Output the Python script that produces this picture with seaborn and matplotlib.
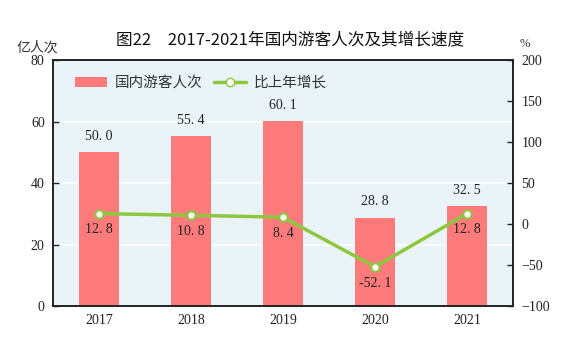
import matplotlib
matplotlib.use("Agg")
import matplotlib.pyplot as plt
import seaborn as sns
import pandas as pd
from matplotlib.lines import Line2D
from matplotlib.patches import Patch

years = ["2017", "2018", "2019", "2020", "2021"]
visitors = [50.0, 55.4, 60.1, 28.8, 32.5]
growth = [12.8, 10.8, 8.4, -52.1, 12.8]
visitor_labels = ["50. 0", "55. 4", "60. 1", "28. 8", "32. 5"]
growth_labels = ["12. 8", "10. 8", "8. 4", "-52. 1", "12. 8"]

sns.set_style("white")
plt.rcParams['font.family'] = ['Noto Sans CJK SC', 'DejaVu Sans']
serif = ['Liberation Serif', 'DejaVu Serif']

df = pd.DataFrame({"year": years, "visitors": visitors, "growth": growth})

fig = plt.figure(figsize=(5.8, 3.42), dpi=100)
ax = fig.add_axes([0.0914, 0.105, 0.793, 0.719])
ax.set_facecolor("#EAF4F8")

bar_color = "#FF7B7B"
line_color = "#8DC63F"

sns.barplot(data=df, x="year", y="visitors", color=bar_color, width=0.435,
            saturation=1, ax=ax, zorder=2, linewidth=0, edgecolor="none")
ax.set_xlim(-0.5, 4.5)
ax.set_ylim(0, 80)
ax.set_yticks([0, 20, 40, 60, 80])
ax.yaxis.grid(True, color="white", linewidth=1.2, zorder=1)
ax.set_axisbelow(True)
ax.set_xlabel("")
ax.set_ylabel("")
ax.tick_params(axis="y", direction="in", length=4, width=1, colors="#222222",
               labelsize=10, pad=6)
ax.tick_params(axis="x", length=0, labelsize=10, colors="#222222", pad=6)
for lab in ax.get_xticklabels() + ax.get_yticklabels():
    lab.set_fontfamily(serif)
for s in ax.spines.values():
    s.set_color("#222222")
    s.set_linewidth(1.2)

for i, (v, t) in enumerate(zip(visitors, visitor_labels)):
    ax.text(i, v + 3, t, ha="center", va="bottom", fontsize=10,
            family=serif, color="#222222", zorder=5)

ax2 = ax.twinx()
ax2.set_ylim(-100, 200)
ax2.set_yticks([-100, -50, 0, 50, 100, 150, 200])
ax2.set_yticklabels(["\u2212100", "\u221250", "0", "50", "100", "150", "200"])
sns.lineplot(x=list(range(len(years))), y=growth, ax=ax2, color=line_color,
             linewidth=2.5, marker="o", markersize=6, markerfacecolor="white",
             markeredgecolor=line_color, markeredgewidth=1.5, zorder=4)
ax2.tick_params(axis="y", direction="in", length=4, width=1, colors="#222222",
                labelsize=10, pad=6)
for lab in ax2.get_yticklabels():
    lab.set_fontfamily(serif)
for s in ax2.spines.values():
    s.set_color("#222222")
    s.set_linewidth(1.2)
ax2.set_xlim(-0.5, 4.5)

for i, (g, t) in enumerate(zip(growth, growth_labels)):
    ax2.text(i, g - 12, t, ha="center", va="top", fontsize=10,
             family=serif, color="#222222", zorder=5)

handles = [Patch(facecolor=bar_color, edgecolor="none", label="国内游客人次"),
           Line2D([0], [0], color=line_color, linewidth=2.5, marker="o",
                  markersize=6, markerfacecolor="white",
                  markeredgecolor=line_color, label="比上年增长")]
leg = ax.legend(handles=handles, loc="upper left", bbox_to_anchor=(0.02, 0.99),
                ncol=2, frameon=False, fontsize=10.5, handlelength=2.2,
                columnspacing=0.8, handletextpad=0.5)
for txt in leg.get_texts():
    txt.set_color("#333333")

fig.text(0.5, 0.885, "图22　2017-2021年国内游客人次及其增长速度", ha="center",
         va="center", fontsize=12, color="#111111", fontweight="medium")
fig.text(0.065, 0.862, "亿人次", ha="center", va="center", fontsize=10,
         color="#333333")
fig.text(0.905, 0.872, "%", ha="center", va="center", fontsize=9,
         family=serif, color="#333333")

fig.savefig("out.png", dpi=100)
